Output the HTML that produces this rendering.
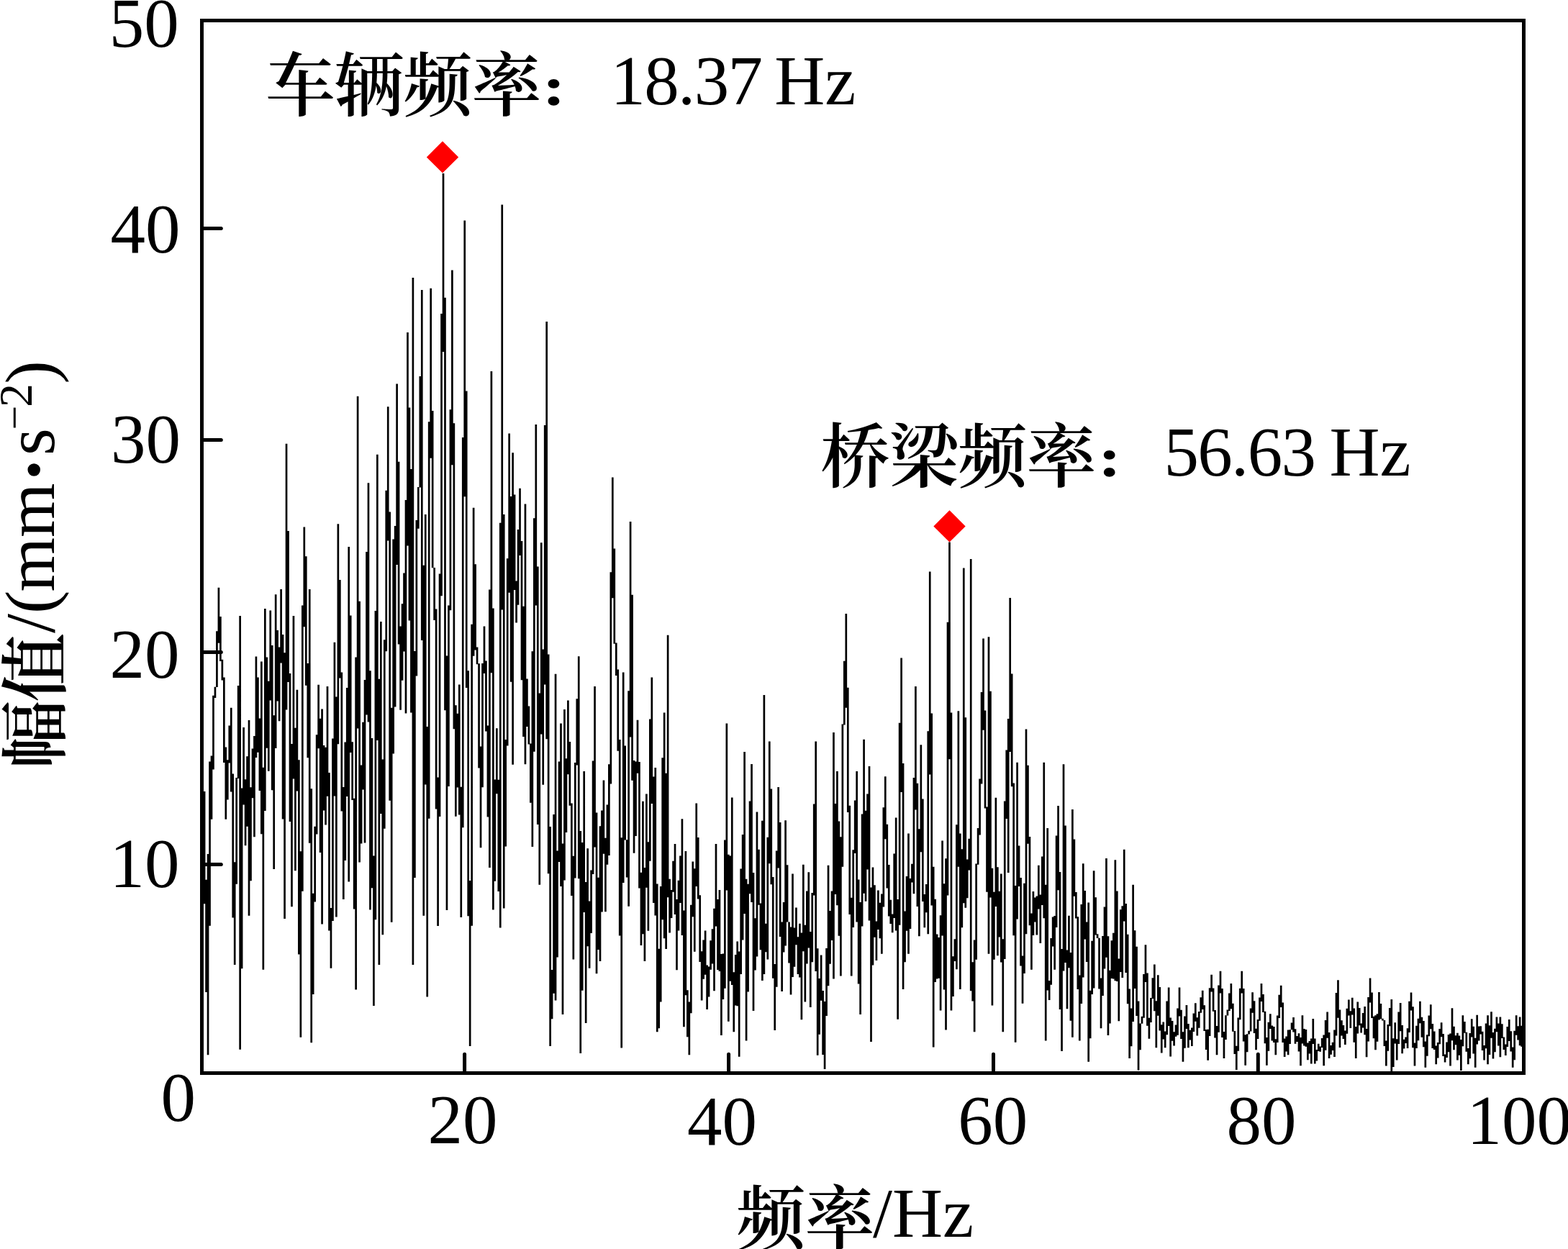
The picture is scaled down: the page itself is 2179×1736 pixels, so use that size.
<!DOCTYPE html>
<html lang="zh-CN"><head><meta charset="utf-8"><title>频谱图</title>
<style>
html,body{margin:0;padding:0;background:#fff;}
body{width:2179px;height:1736px;overflow:hidden;}
svg{display:block;}
text{font-family:"Liberation Serif","Noto Serif CJK SC",serif;font-size:97px;fill:#000;}
.c{font-family:"Noto Serif CJK SC","Liberation Serif",serif;font-weight:600;font-size:97px;letter-spacing:-1.5px;}
.k{font-family:"Noto Serif CJK SC","Liberation Serif",serif;font-weight:900;font-size:100px;}
.n{letter-spacing:-1.7px;}
.d{font-weight:700;font-size:108px;}
.s{font-size:66px;}
.m{font-size:60px;}
.tr{fill:none;stroke:#000;stroke-width:2.8;stroke-linejoin:miter;stroke-miterlimit:3;stroke-linecap:butt;}
.ax{fill:none;stroke:#000;stroke-width:5;}
.tk{stroke:#000;stroke-width:5;stroke-linecap:round;}
</style></head><body>
<svg width="2179" height="1736" viewBox="0 0 2179 1736">
<rect x="0" y="0" width="2179" height="1736" fill="#fff"/>
<path fill="#000" d="M282.75,1100.0h2.68V1256.2h-2.68zM285.23,1222.8h2.68V1379.0h-2.68zM287.70,1187.0h2.68V1466.2h-2.68zM290.18,1058.5h2.68V1286.8h-2.68zM292.66,1050.6h2.68V1138.7h-2.68zM295.13,966.8h2.68V1069.5h-2.68zM297.61,954.7h2.68V969.9h-2.68zM300.09,877.2h2.68V954.9h-2.68zM302.57,816.7h2.68V893.7h-2.68zM305.04,857.1h2.68V918.9h-2.68zM307.52,916.7h2.68V945.5h-2.68zM310.00,941.6h2.68V1060.1h-2.68zM312.47,1038.6h2.68V1138.7h-2.68zM314.95,1056.2h2.68V1111.4h-2.68zM317.43,1008.5h2.68V1060.6h-2.68zM319.90,983.8h2.68V1100.6h-2.68zM322.38,1075.5h2.68V1275.6h-2.68zM324.86,1198.2h2.68V1341.0h-2.68zM327.34,1080.9h2.68V1228.8h-2.68zM329.81,953.1h2.68V1082.0h-2.68zM332.29,855.9h2.68V1458.8h-2.68zM334.77,1095.6h2.68V1346.3h-2.68zM337.24,1011.0h2.68V1118.6h-2.68zM339.72,1083.3h2.68V1175.2h-2.68zM342.20,1051.3h2.68V1148.8h-2.68zM344.68,1001.0h2.68V1272.7h-2.68zM347.15,1094.3h2.68V1224.3h-2.68zM349.63,1040.5h2.68V1109.3h-2.68zM352.11,1022.9h2.68V1163.3h-2.68zM354.58,912.6h2.68V1053.0h-2.68zM357.06,941.4h2.68V1045.8h-2.68zM359.54,998.5h2.68V1099.1h-2.68zM362.01,919.4h2.68V1159.3h-2.68zM364.49,1066.8h2.68V1347.8h-2.68zM366.97,845.9h2.68V1127.0h-2.68zM369.44,913.4h2.68V1039.8h-2.68zM371.92,946.7h2.68V1071.7h-2.68zM374.40,848.5h2.68V973.5h-2.68zM376.88,896.9h2.68V1098.3h-2.68zM379.35,994.3h2.68V1208.1h-2.68zM381.83,826.3h2.68V1040.1h-2.68zM384.31,875.9h2.68V974.4h-2.68zM386.78,899.6h2.68V1002.3h-2.68zM389.26,818.9h2.68V921.6h-2.68zM391.74,881.9h2.68V1138.5h-2.68zM394.21,907.3h2.68V1277.0h-2.68zM396.69,616.8h2.68V986.5h-2.68zM399.17,738.1h2.68V947.9h-2.68zM401.65,936.0h2.68V1142.1h-2.68zM404.12,1033.9h2.68V1260.3h-2.68zM406.60,855.9h2.68V1082.4h-2.68zM409.08,1011.8h2.68V1210.2h-2.68zM411.55,958.8h2.68V1099.6h-2.68zM414.03,1056.2h2.68V1326.6h-2.68zM416.51,1183.3h2.68V1441.7h-2.68zM418.99,841.5h2.68V1238.7h-2.68zM421.46,732.5h2.68V871.2h-2.68zM423.94,773.2h2.68V952.8h-2.68zM426.42,922.0h2.68V1053.3h-2.68zM428.89,818.9h2.68V1171.8h-2.68zM431.37,1096.2h2.68V1449.2h-2.68zM433.85,1241.7h2.68V1382.0h-2.68zM436.32,1148.8h2.68V1253.5h-2.68zM438.80,1021.3h2.68V1159.4h-2.68zM441.28,951.8h2.68V1040.2h-2.68zM443.75,998.7h2.68V1184.9h-2.68zM446.23,985.5h2.68V1284.5h-2.68zM448.71,1036.1h2.68V1126.4h-2.68zM451.19,1038.7h2.68V1146.6h-2.68zM453.66,953.9h2.68V1106.8h-2.68zM456.14,1074.0h2.68V1293.4h-2.68zM458.62,1262.1h2.68V1345.7h-2.68zM461.09,1026.4h2.68V1280.0h-2.68zM463.57,892.8h2.68V1106.6h-2.68zM466.05,968.6h2.68V1274.6h-2.68zM468.52,728.2h2.68V1034.2h-2.68zM471.00,806.1h2.68V942.4h-2.68zM473.48,934.5h2.68V1127.5h-2.68zM475.96,1094.1h2.68V1250.1h-2.68zM478.43,1031.4h2.68V1196.1h-2.68zM480.91,956.0h2.68V1107.0h-2.68zM483.39,760.1h2.68V1225.6h-2.68zM485.86,855.4h2.68V1046.1h-2.68zM488.34,1031.3h2.68V1112.1h-2.68zM490.82,1109.7h2.68V1263.6h-2.68zM493.29,913.6h2.68V1375.6h-2.68zM495.77,550.7h2.68V1012.6h-2.68zM498.25,835.7h2.68V1198.5h-2.68zM500.73,1063.5h2.68V1172.5h-2.68zM503.20,1003.8h2.68V1097.6h-2.68zM505.68,945.0h2.68V1171.4h-2.68zM508.16,767.1h2.68V993.5h-2.68zM510.63,671.2h2.68V1003.5h-2.68zM513.11,932.3h2.68V1264.6h-2.68zM515.59,1025.9h2.68V1234.3h-2.68zM518.06,1189.6h2.68V1398.0h-2.68zM520.54,849.1h2.68V1278.2h-2.68zM523.02,631.8h2.68V1028.9h-2.68zM525.50,943.8h2.68V1341.0h-2.68zM527.97,864.0h2.68V1131.1h-2.68zM530.45,1055.5h2.68V1299.2h-2.68zM532.93,889.2h2.68V1151.8h-2.68zM535.40,681.8h2.68V905.3h-2.68zM537.88,565.2h2.68V751.5h-2.68zM540.36,711.6h2.68V1112.8h-2.68zM542.83,983.7h2.68V1281.7h-2.68zM545.31,749.6h2.68V1047.6h-2.68zM547.79,731.1h2.68V982.4h-2.68zM550.27,533.6h2.68V784.9h-2.68zM552.74,641.7h2.68V895.4h-2.68zM555.22,870.5h2.68V986.7h-2.68zM557.70,839.2h2.68V945.7h-2.68zM560.17,796.5h2.68V905.6h-2.68zM562.65,695.0h2.68V991.4h-2.68zM565.13,462.1h2.68V758.5h-2.68zM567.60,566.6h2.68V862.4h-2.68zM570.08,652.0h2.68V990.5h-2.68zM572.56,386.0h2.68V1341.0h-2.68zM575.04,905.0h2.68V1219.9h-2.68zM577.51,722.9h2.68V939.4h-2.68zM579.99,677.1h2.68V734.8h-2.68zM582.47,522.9h2.68V677.5h-2.68zM584.94,403.0h2.68V890.1h-2.68zM587.42,785.7h2.68V1272.7h-2.68zM589.90,715.1h2.68V1090.6h-2.68zM592.38,1010.1h2.68V1385.6h-2.68zM594.85,586.2h2.68V1137.7h-2.68zM597.33,400.7h2.68V636.8h-2.68zM599.81,571.0h2.68V789.3h-2.68zM602.28,789.0h2.68V861.9h-2.68zM604.76,846.6h2.68V1124.6h-2.68zM607.24,1080.4h2.68V1287.0h-2.68zM609.71,797.4h2.68V1135.1h-2.68zM612.19,435.9h2.68V828.3h-2.68zM614.67,241.0h2.68V489.1h-2.68zM617.14,413.7h2.68V987.2h-2.68zM619.62,911.4h2.68V1265.0h-2.68zM622.10,841.4h2.68V1092.9h-2.68zM624.58,569.3h2.68V848.3h-2.68zM627.05,375.6h2.68V646.2h-2.68zM629.53,588.2h2.68V1013.3h-2.68zM632.01,980.2h2.68V1134.7h-2.68zM634.48,991.8h2.68V1094.4h-2.68zM636.96,951.5h2.68V1132.6h-2.68zM639.44,1093.8h2.68V1274.9h-2.68zM641.91,608.1h2.68V1150.3h-2.68zM644.39,306.6h2.68V690.3h-2.68zM646.87,543.5h2.68V956.0h-2.68zM649.35,932.2h2.68V1273.3h-2.68zM651.82,1224.0h2.68V1454.1h-2.68zM654.30,867.7h2.68V1286.7h-2.68zM656.78,705.8h2.68V911.8h-2.68zM659.25,784.3h2.68V903.6h-2.68zM661.73,899.4h2.68V923.3h-2.68zM664.21,922.3h2.68V1067.6h-2.68zM666.69,1037.5h2.68V1178.2h-2.68zM669.16,921.9h2.68V1094.3h-2.68zM671.64,870.4h2.68V936.0h-2.68zM674.12,918.4h2.68V1016.5h-2.68zM676.59,1008.6h2.68V1135.4h-2.68zM679.07,819.6h2.68V1205.9h-2.68zM681.55,516.1h2.68V935.3h-2.68zM684.02,845.5h2.68V1264.6h-2.68zM686.50,1083.5h2.68V1224.8h-2.68zM688.98,1012.2h2.68V1103.3h-2.68zM691.46,1083.7h2.68V1239.1h-2.68zM693.93,726.8h2.68V1289.6h-2.68zM696.41,284.6h2.68V847.4h-2.68zM698.89,714.9h2.68V1262.5h-2.68zM701.36,1028.0h2.68V1176.5h-2.68zM703.84,776.3h2.68V1036.4h-2.68zM706.32,602.5h2.68V823.7h-2.68zM708.79,689.9h2.68V947.7h-2.68zM711.27,629.2h2.68V1062.8h-2.68zM713.75,687.5h2.68V819.9h-2.68zM716.23,807.4h2.68V865.6h-2.68zM718.70,736.0h2.68V840.7h-2.68zM721.18,678.7h2.68V771.9h-2.68zM723.66,751.9h2.68V945.3h-2.68zM726.13,842.8h2.68V1024.0h-2.68zM728.61,700.5h2.68V1062.2h-2.68zM731.09,943.4h2.68V1009.9h-2.68zM733.56,981.6h2.68V1034.5h-2.68zM736.04,1033.6h2.68V1115.8h-2.68zM738.52,905.2h2.68V1177.1h-2.68zM741.00,720.2h2.68V1044.8h-2.68zM743.47,590.0h2.68V841.5h-2.68zM745.95,787.6h2.68V1145.9h-2.68zM748.43,963.5h2.68V1229.8h-2.68zM750.90,754.3h2.68V1020.6h-2.68zM753.38,902.4h2.68V1090.8h-2.68zM755.86,591.1h2.68V951.6h-2.68zM758.33,447.1h2.68V1027.3h-2.68zM760.81,909.5h2.68V1214.3h-2.68zM763.29,1149.0h2.68V1453.9h-2.68zM765.76,1347.9h2.68V1416.2h-2.68zM768.24,1132.1h2.68V1380.7h-2.68zM770.72,936.8h2.68V1390.5h-2.68zM773.20,1182.5h2.68V1330.6h-2.68zM775.67,1058.6h2.68V1197.9h-2.68zM778.15,1005.5h2.68V1232.1h-2.68zM780.63,1172.5h2.68V1410.1h-2.68zM783.10,985.9h2.68V1223.4h-2.68zM785.58,1054.2h2.68V1156.9h-2.68zM788.06,973.5h2.68V1076.2h-2.68zM790.53,1031.0h2.68V1119.8h-2.68zM793.01,1116.5h2.68V1244.9h-2.68zM795.49,1189.8h2.68V1333.5h-2.68zM797.97,1059.9h2.68V1220.6h-2.68zM800.44,971.3h2.68V1063.5h-2.68zM802.92,912.3h2.68V1221.3h-2.68zM805.40,1155.1h2.68V1464.1h-2.68zM807.87,1171.1h2.68V1376.8h-2.68zM810.35,1072.1h2.68V1268.1h-2.68zM812.83,1226.1h2.68V1422.1h-2.68zM815.30,1179.3h2.68V1315.2h-2.68zM817.78,1252.5h2.68V1345.7h-2.68zM820.26,1209.6h2.68V1296.9h-2.68zM822.74,1057.6h2.68V1215.0h-2.68zM825.21,953.9h2.68V1177.5h-2.68zM827.69,1129.5h2.68V1353.2h-2.68zM830.17,1219.8h2.68V1320.1h-2.68zM832.64,1148.3h2.68V1336.1h-2.68zM835.12,1126.6h2.68V1267.5h-2.68zM837.60,1084.4h2.68V1186.8h-2.68zM840.07,1164.8h2.68V1267.2h-2.68zM842.55,1118.5h2.68V1201.7h-2.68zM845.03,1062.3h2.68V1188.9h-2.68zM847.51,795.3h2.68V1089.4h-2.68zM849.98,663.6h2.68V831.2h-2.68zM852.46,762.6h2.68V894.8h-2.68zM854.94,893.5h2.68V939.0h-2.68zM857.41,930.6h2.68V1043.7h-2.68zM859.89,1027.9h2.68V1300.5h-2.68zM862.37,1164.2h2.68V1456.6h-2.68zM864.84,934.4h2.68V1226.9h-2.68zM867.32,1036.5h2.68V1167.5h-2.68zM869.80,1167.2h2.68V1219.5h-2.68zM872.28,960.3h2.68V1259.7h-2.68zM874.75,725.1h2.68V1024.5h-2.68zM877.23,826.7h2.68V1084.7h-2.68zM879.71,1057.1h2.68V1185.7h-2.68zM882.18,1058.5h2.68V1162.0h-2.68zM884.66,1000.8h2.68V1074.8h-2.68zM887.14,1059.0h2.68V1234.4h-2.68zM889.62,1212.7h2.68V1314.1h-2.68zM892.09,1113.7h2.68V1298.2h-2.68zM894.57,1205.9h2.68V1336.1h-2.68zM897.05,1103.6h2.68V1233.8h-2.68zM899.52,1170.2h2.68V1293.8h-2.68zM902.00,999.4h2.68V1196.7h-2.68zM904.48,941.5h2.68V1117.1h-2.68zM906.95,1079.4h2.68V1255.0h-2.68zM909.43,1066.9h2.68V1272.6h-2.68zM911.91,1228.5h2.68V1434.2h-2.68zM914.38,1318.7h2.68V1429.2h-2.68zM916.86,1232.0h2.68V1392.6h-2.68zM919.34,1053.2h2.68V1278.3h-2.68zM921.82,990.6h2.68V1304.3h-2.68zM924.29,1074.7h2.68V1319.0h-2.68zM926.77,882.8h2.68V1247.2h-2.68zM929.25,1221.7h2.68V1296.6h-2.68zM931.72,1237.0h2.68V1275.9h-2.68zM934.20,1196.8h2.68V1239.7h-2.68zM936.68,1172.9h2.68V1271.1h-2.68zM939.15,1250.0h2.68V1348.3h-2.68zM941.63,1223.8h2.68V1293.5h-2.68zM944.11,1189.6h2.68V1255.0h-2.68zM946.59,1138.2h2.68V1300.0h-2.68zM949.06,1265.4h2.68V1427.2h-2.68zM951.54,1182.9h2.68V1383.3h-2.68zM954.02,1376.2h2.68V1441.3h-2.68zM956.49,1392.5h2.68V1466.2h-2.68zM958.97,1257.7h2.68V1408.3h-2.68zM961.45,1197.4h2.68V1274.2h-2.68zM963.92,1207.2h2.68V1322.7h-2.68zM966.40,1116.4h2.68V1231.9h-2.68zM968.88,1164.1h2.68V1249.4h-2.68zM971.36,1244.2h2.68V1336.9h-2.68zM973.83,1322.3h2.68V1390.5h-2.68zM976.31,1306.4h2.68V1360.7h-2.68zM978.79,1293.4h2.68V1354.7h-2.68zM981.26,1341.6h2.68V1402.9h-2.68zM983.74,1343.5h2.68V1385.6h-2.68zM986.22,1307.3h2.68V1347.8h-2.68zM988.69,1291.3h2.68V1339.5h-2.68zM991.17,1262.8h2.68V1377.3h-2.68zM993.65,1172.9h2.68V1287.4h-2.68zM996.13,1249.9h2.68V1347.9h-2.68zM998.60,1236.9h2.68V1350.1h-2.68zM1001.08,1325.9h2.68V1439.1h-2.68zM1003.56,1325.4h2.68V1389.1h-2.68zM1006.03,1167.5h2.68V1373.8h-2.68zM1008.51,1005.5h2.68V1237.5h-2.68zM1010.99,1187.8h2.68V1419.7h-2.68zM1013.46,1189.6h2.68V1363.8h-2.68zM1015.94,1108.5h2.68V1369.0h-2.68zM1018.42,1351.2h2.68V1434.2h-2.68zM1020.90,1327.0h2.68V1397.4h-2.68zM1023.37,1308.4h2.68V1398.2h-2.68zM1025.85,1322.6h2.68V1468.8h-2.68zM1028.33,1207.6h2.68V1353.9h-2.68zM1030.80,1160.1h2.68V1306.6h-2.68zM1033.28,1045.0h2.68V1269.9h-2.68zM1035.76,1221.7h2.68V1446.6h-2.68zM1038.24,1228.8h2.68V1378.5h-2.68zM1040.71,1113.6h2.68V1242.3h-2.68zM1043.19,1062.0h2.68V1254.1h-2.68zM1045.67,1212.9h2.68V1405.0h-2.68zM1048.14,1276.3h2.68V1348.4h-2.68zM1050.62,1128.6h2.68V1329.6h-2.68zM1053.10,1180.8h2.68V1257.8h-2.68zM1055.57,1255.6h2.68V1320.3h-2.68zM1058.05,1140.7h2.68V1363.0h-2.68zM1060.53,966.0h2.68V1354.1h-2.68zM1063.01,1283.8h2.68V1323.2h-2.68zM1065.48,1163.8h2.68V1333.5h-2.68zM1067.96,1030.5h2.68V1200.2h-2.68zM1070.44,1096.6h2.68V1229.3h-2.68zM1072.91,1218.9h2.68V1359.7h-2.68zM1075.39,1339.9h2.68V1432.1h-2.68zM1077.87,1182.5h2.68V1371.8h-2.68zM1080.34,1094.0h2.68V1206.6h-2.68zM1082.82,1143.1h2.68V1302.1h-2.68zM1085.30,1281.4h2.68V1378.1h-2.68zM1087.78,1253.9h2.68V1323.5h-2.68zM1090.25,1140.3h2.68V1314.4h-2.68zM1092.73,1202.2h2.68V1281.6h-2.68zM1095.21,1281.5h2.68V1338.4h-2.68zM1097.68,1288.5h2.68V1382.6h-2.68zM1100.16,1214.5h2.68V1358.1h-2.68zM1102.64,1289.6h2.68V1343.7h-2.68zM1105.11,1261.4h2.68V1313.3h-2.68zM1107.59,1302.2h2.68V1354.0h-2.68zM1110.07,1283.8h2.68V1358.5h-2.68zM1112.55,1296.5h2.68V1417.2h-2.68zM1115.02,1201.7h2.68V1322.3h-2.68zM1117.50,1285.7h2.68V1392.6h-2.68zM1119.98,1238.5h2.68V1339.5h-2.68zM1122.45,1212.3h2.68V1317.5h-2.68zM1124.93,1295.0h2.68V1400.1h-2.68zM1127.41,1241.0h2.68V1337.3h-2.68zM1129.88,1117.5h2.68V1244.5h-2.68zM1132.36,1030.5h2.68V1350.1h-2.68zM1134.84,1318.3h2.68V1466.7h-2.68zM1137.32,1359.9h2.68V1437.8h-2.68zM1139.79,1327.6h2.68V1390.7h-2.68zM1142.27,1377.1h2.68V1465.9h-2.68zM1144.75,1391.9h2.68V1486.1h-2.68zM1147.22,1318.0h2.68V1412.1h-2.68zM1149.70,1202.7h2.68V1370.2h-2.68zM1152.18,1266.0h2.68V1339.7h-2.68zM1154.65,1238.5h2.68V1306.9h-2.68zM1157.13,1017.9h2.68V1360.6h-2.68zM1159.61,1117.0h2.68V1243.1h-2.68zM1162.09,1072.1h2.68V1258.3h-2.68zM1164.56,1141.5h2.68V1300.7h-2.68zM1167.04,1163.3h2.68V1356.4h-2.68zM1169.52,1006.4h2.68V1204.7h-2.68zM1171.99,918.7h2.68V1007.5h-2.68zM1174.47,852.9h2.68V983.7h-2.68zM1176.95,955.7h2.68V1128.9h-2.68zM1179.42,1119.8h2.68V1271.0h-2.68zM1181.90,1247.7h2.68V1356.4h-2.68zM1184.38,1181.3h2.68V1288.9h-2.68zM1186.86,1112.5h2.68V1185.9h-2.68zM1189.33,1072.1h2.68V1281.6h-2.68zM1191.81,1222.4h2.68V1367.6h-2.68zM1194.29,1254.0h2.68V1410.1h-2.68zM1196.76,1131.4h2.68V1287.5h-2.68zM1199.24,1027.7h2.68V1241.8h-2.68zM1201.72,1126.7h2.68V1252.7h-2.68zM1204.19,1103.4h2.68V1208.5h-2.68zM1206.67,1065.0h2.68V1279.6h-2.68zM1209.15,1233.6h2.68V1448.1h-2.68zM1211.62,1205.5h2.68V1341.4h-2.68zM1214.10,1230.2h2.68V1302.7h-2.68zM1216.58,1280.4h2.68V1335.0h-2.68zM1219.06,1237.5h2.68V1292.1h-2.68zM1221.53,1254.7h2.68V1304.2h-2.68zM1224.01,1242.5h2.68V1325.8h-2.68zM1226.49,1122.3h2.68V1260.4h-2.68zM1228.96,1079.3h2.68V1166.3h-2.68zM1231.44,1145.8h2.68V1234.6h-2.68zM1233.92,1201.9h2.68V1273.4h-2.68zM1236.39,1250.7h2.68V1283.9h-2.68zM1238.87,1270.5h2.68V1296.2h-2.68zM1241.35,1186.6h2.68V1276.0h-2.68zM1243.83,1136.6h2.68V1293.5h-2.68zM1246.30,1250.1h2.68V1416.7h-2.68zM1248.78,1004.7h2.68V1285.8h-2.68zM1251.26,914.6h2.68V1101.0h-2.68zM1253.73,1061.1h2.68V1374.9h-2.68zM1256.21,1266.5h2.68V1337.3h-2.68zM1258.69,1218.0h2.68V1293.7h-2.68zM1261.16,1158.6h2.68V1325.8h-2.68zM1263.64,1221.0h2.68V1291.1h-2.68zM1266.12,1200.7h2.68V1226.5h-2.68zM1268.60,1080.9h2.68V1242.2h-2.68zM1271.07,954.1h2.68V1125.5h-2.68zM1273.55,1088.7h2.68V1260.1h-2.68zM1276.03,1152.3h2.68V1301.3h-2.68zM1278.50,1035.2h2.68V1184.2h-2.68zM1280.98,1110.6h2.68V1252.9h-2.68zM1283.46,1243.0h2.68V1289.2h-2.68zM1285.93,1229.0h2.68V1268.2h-2.68zM1288.41,1016.2h2.68V1298.3h-2.68zM1290.89,794.5h2.68V1076.6h-2.68zM1293.37,991.6h2.68V1258.6h-2.68zM1295.84,1204.8h2.68V1455.6h-2.68zM1298.32,1249.7h2.68V1365.0h-2.68zM1300.80,1298.5h2.68V1360.6h-2.68zM1303.27,1303.0h2.68V1359.8h-2.68zM1305.75,1272.3h2.68V1404.4h-2.68zM1308.23,1168.6h2.68V1300.6h-2.68zM1310.70,1228.2h2.68V1375.4h-2.68zM1313.18,1193.3h2.68V1431.5h-2.68zM1315.66,864.7h2.68V1244.4h-2.68zM1318.14,753.5h2.68V1055.2h-2.68zM1320.61,990.5h2.68V1404.4h-2.68zM1323.09,1329.3h2.68V1384.9h-2.68zM1325.57,1305.2h2.68V1335.9h-2.68zM1328.04,1146.2h2.68V1347.2h-2.68zM1330.52,988.2h2.68V1204.8h-2.68zM1333.00,1158.4h2.68V1374.9h-2.68zM1335.47,1180.3h2.68V1289.3h-2.68zM1337.95,789.4h2.68V1255.2h-2.68zM1340.43,997.3h2.68V1261.8h-2.68zM1342.91,1194.4h2.68V1248.2h-2.68zM1345.38,1165.8h2.68V1209.4h-2.68zM1347.86,777.0h2.68V1377.3h-2.68zM1350.34,1337.2h2.68V1391.5h-2.68zM1352.81,1306.5h2.68V1434.2h-2.68zM1355.29,1200.5h2.68V1333.8h-2.68zM1357.77,1150.9h2.68V1201.7h-2.68zM1360.24,1082.4h2.68V1160.6h-2.68zM1362.72,961.9h2.68V1089.5h-2.68zM1365.20,887.5h2.68V1014.7h-2.68zM1367.68,987.5h2.68V1123.4h-2.68zM1370.15,1121.5h2.68V1239.8h-2.68zM1372.63,885.2h2.68V1325.8h-2.68zM1375.11,960.7h2.68V1247.6h-2.68zM1377.58,1206.7h2.68V1397.5h-2.68zM1380.06,1239.8h2.68V1333.8h-2.68zM1382.54,1108.8h2.68V1259.9h-2.68zM1385.01,1205.3h2.68V1328.2h-2.68zM1387.49,1238.8h2.68V1302.4h-2.68zM1389.97,1214.6h2.68V1337.6h-2.68zM1392.45,1305.2h2.68V1434.2h-2.68zM1394.92,1113.6h2.68V1332.9h-2.68zM1397.40,1042.6h2.68V1138.1h-2.68zM1399.88,999.1h2.68V1213.1h-2.68zM1402.35,831.0h2.68V1045.0h-2.68zM1404.83,936.5h2.68V1093.3h-2.68zM1407.31,1088.5h2.68V1300.2h-2.68zM1409.78,1230.9h2.68V1448.7h-2.68zM1412.26,1059.7h2.68V1277.6h-2.68zM1414.74,1175.6h2.68V1232.0h-2.68zM1417.22,1219.9h2.68V1342.6h-2.68zM1419.69,1328.4h2.68V1394.8h-2.68zM1422.17,1227.7h2.68V1353.1h-2.68zM1424.65,1013.4h2.68V1298.3h-2.68zM1427.12,1063.8h2.68V1172.7h-2.68zM1429.60,1163.1h2.68V1286.2h-2.68zM1432.08,1269.5h2.68V1347.8h-2.68zM1434.55,1239.0h2.68V1299.9h-2.68zM1437.03,1247.5h2.68V1281.5h-2.68zM1439.51,1245.4h2.68V1299.6h-2.68zM1441.99,1202.7h2.68V1263.4h-2.68zM1444.46,1243.5h2.68V1311.1h-2.68zM1446.94,1190.4h2.68V1258.0h-2.68zM1449.42,1059.7h2.68V1276.2h-2.68zM1451.89,1229.8h2.68V1446.4h-2.68zM1454.37,1151.1h2.68V1376.5h-2.68zM1456.85,1362.9h2.68V1389.9h-2.68zM1459.33,1304.1h2.68V1368.7h-2.68zM1461.80,1274.5h2.68V1315.6h-2.68zM1464.28,1273.0h2.68V1347.8h-2.68zM1466.76,1161.5h2.68V1289.1h-2.68zM1469.23,1120.0h2.68V1237.3h-2.68zM1471.71,1212.1h2.68V1403.0h-2.68zM1474.19,1319.1h2.68V1460.9h-2.68zM1476.66,1062.3h2.68V1349.5h-2.68zM1479.14,1147.5h2.68V1337.9h-2.68zM1481.62,1320.4h2.68V1402.2h-2.68zM1484.10,1272.7h2.68V1345.2h-2.68zM1486.57,1324.1h2.68V1418.7h-2.68zM1489.05,1125.0h2.68V1441.7h-2.68zM1491.53,1166.4h2.68V1245.8h-2.68zM1494.00,1240.1h2.68V1276.4h-2.68zM1496.48,1274.3h2.68V1374.9h-2.68zM1498.96,1355.4h2.68V1446.4h-2.68zM1501.43,1257.0h2.68V1394.9h-2.68zM1503.91,1200.2h2.68V1358.4h-2.68zM1506.39,1237.9h2.68V1305.4h-2.68zM1508.87,1281.6h2.68V1337.1h-2.68zM1511.34,1254.6h2.68V1475.8h-2.68zM1513.82,1376.7h2.68V1443.2h-2.68zM1516.30,1307.7h2.68V1382.0h-2.68zM1518.77,1210.2h2.68V1373.5h-2.68zM1521.25,1247.3h2.68V1299.4h-2.68zM1523.73,1298.3h2.68V1303.9h-2.68zM1526.20,1303.7h2.68V1374.4h-2.68zM1528.68,1359.4h2.68V1429.3h-2.68zM1531.16,1301.1h2.68V1384.0h-2.68zM1533.64,1260.6h2.68V1346.4h-2.68zM1536.11,1193.1h2.68V1330.8h-2.68zM1538.59,1301.3h2.68V1438.9h-2.68zM1541.07,1348.7h2.68V1422.5h-2.68zM1543.54,1307.2h2.68V1360.0h-2.68zM1546.02,1296.7h2.68V1360.6h-2.68zM1548.50,1195.3h2.68V1363.2h-2.68zM1550.97,1238.5h2.68V1364.0h-2.68zM1553.45,1332.4h2.68V1419.3h-2.68zM1555.93,1264.2h2.68V1351.0h-2.68zM1558.41,1259.2h2.68V1359.0h-2.68zM1560.88,1180.8h2.68V1280.6h-2.68zM1563.36,1256.1h2.68V1352.0h-2.68zM1565.84,1298.8h2.68V1395.2h-2.68zM1568.31,1374.5h2.68V1470.9h-2.68zM1570.79,1401.4h2.68V1454.2h-2.68zM1573.27,1229.8h2.68V1420.1h-2.68zM1575.74,1293.2h2.68V1373.9h-2.68zM1578.22,1315.8h2.68V1412.0h-2.68zM1580.70,1391.4h2.68V1487.6h-2.68zM1583.18,1422.5h2.68V1459.3h-2.68zM1585.65,1412.8h2.68V1422.7h-2.68zM1588.13,1353.9h2.68V1414.7h-2.68zM1590.61,1313.3h2.68V1365.0h-2.68zM1593.08,1352.6h2.68V1425.7h-2.68zM1595.56,1414.8h2.68V1443.8h-2.68zM1598.04,1387.0h2.68V1421.0h-2.68zM1600.51,1359.2h2.68V1388.1h-2.68zM1602.99,1340.4h2.68V1405.2h-2.68zM1605.47,1391.3h2.68V1456.2h-2.68zM1607.95,1355.3h2.68V1411.8h-2.68zM1610.42,1372.0h2.68V1432.6h-2.68zM1612.90,1424.2h2.68V1463.5h-2.68zM1615.38,1420.4h2.68V1444.5h-2.68zM1617.85,1433.5h2.68V1456.2h-2.68zM1620.33,1391.4h2.68V1438.3h-2.68zM1622.81,1372.4h2.68V1426.1h-2.68zM1625.28,1414.6h2.68V1468.4h-2.68zM1627.76,1419.0h2.68V1446.7h-2.68zM1630.24,1434.2h2.68V1453.4h-2.68zM1632.72,1424.6h2.68V1440.8h-2.68zM1635.19,1401.6h2.68V1438.8h-2.68zM1637.67,1372.4h2.68V1412.4h-2.68zM1640.15,1403.8h2.68V1443.9h-2.68zM1642.62,1434.2h2.68V1475.8h-2.68zM1645.10,1412.6h2.68V1456.8h-2.68zM1647.58,1396.9h2.68V1430.1h-2.68zM1650.05,1423.0h2.68V1456.2h-2.68zM1652.53,1431.8h2.68V1445.5h-2.68zM1655.01,1428.6h2.68V1454.0h-2.68zM1657.49,1408.6h2.68V1434.0h-2.68zM1659.96,1394.3h2.68V1419.7h-2.68zM1662.44,1414.2h2.68V1439.6h-2.68zM1664.92,1405.9h2.68V1428.8h-2.68zM1667.39,1386.3h2.68V1407.8h-2.68zM1669.87,1376.7h2.68V1402.9h-2.68zM1672.35,1397.3h2.68V1432.9h-2.68zM1674.82,1430.9h2.68V1459.1h-2.68zM1677.30,1430.7h2.68V1473.8h-2.68zM1679.78,1373.3h2.68V1439.9h-2.68zM1682.26,1354.8h2.68V1378.5h-2.68zM1684.73,1373.4h2.68V1405.7h-2.68zM1687.21,1403.9h2.68V1442.6h-2.68zM1689.69,1426.1h2.68V1466.3h-2.68zM1692.16,1369.4h2.68V1434.7h-2.68zM1694.64,1349.7h2.68V1380.5h-2.68zM1697.12,1373.9h2.68V1441.9h-2.68zM1699.59,1434.0h2.68V1471.1h-2.68zM1702.07,1411.3h2.68V1444.9h-2.68zM1704.55,1403.5h2.68V1411.4h-2.68zM1707.03,1380.4h2.68V1405.1h-2.68zM1709.50,1367.1h2.68V1402.3h-2.68zM1711.98,1394.7h2.68V1433.7h-2.68zM1714.46,1432.9h2.68V1464.9h-2.68zM1716.93,1453.7h2.68V1487.1h-2.68zM1719.41,1414.5h2.68V1460.8h-2.68zM1721.89,1373.7h2.68V1417.3h-2.68zM1724.36,1349.7h2.68V1380.6h-2.68zM1726.84,1374.0h2.68V1447.4h-2.68zM1729.32,1438.3h2.68V1480.7h-2.68zM1731.80,1437.3h2.68V1462.2h-2.68zM1734.27,1432.7h2.68V1437.6h-2.68zM1736.75,1401.6h2.68V1433.5h-2.68zM1739.23,1379.3h2.68V1407.7h-2.68zM1741.70,1391.3h2.68V1436.1h-2.68zM1744.18,1429.8h2.68V1459.3h-2.68zM1746.66,1417.1h2.68V1443.9h-2.68zM1749.13,1386.6h2.68V1418.7h-2.68zM1751.61,1367.1h2.68V1391.9h-2.68zM1754.09,1382.1h2.68V1406.9h-2.68zM1756.57,1405.7h2.68V1450.2h-2.68zM1759.04,1441.9h2.68V1480.7h-2.68zM1761.52,1420.7h2.68V1460.8h-2.68zM1764.00,1409.2h2.68V1430.1h-2.68zM1766.47,1425.6h2.68V1446.5h-2.68zM1768.95,1427.0h2.68V1449.0h-2.68zM1771.43,1444.3h2.68V1466.3h-2.68zM1773.90,1411.6h2.68V1449.1h-2.68zM1776.38,1382.8h2.68V1415.0h-2.68zM1778.86,1369.7h2.68V1399.9h-2.68zM1781.34,1393.5h2.68V1449.0h-2.68zM1783.81,1443.6h2.68V1469.0h-2.68zM1786.29,1440.6h2.68V1461.5h-2.68zM1788.77,1431.6h2.68V1466.3h-2.68zM1791.24,1431.3h2.68V1451.0h-2.68zM1793.72,1421.5h2.68V1431.3h-2.68zM1796.20,1414.0h2.68V1434.6h-2.68zM1798.67,1430.2h2.68V1450.8h-2.68zM1801.15,1439.9h2.68V1448.1h-2.68zM1803.63,1436.2h2.68V1461.4h-2.68zM1806.11,1442.1h2.68V1481.2h-2.68zM1808.58,1411.3h2.68V1450.5h-2.68zM1811.06,1429.9h2.68V1453.4h-2.68zM1813.54,1431.1h2.68V1454.7h-2.68zM1816.01,1449.6h2.68V1473.2h-2.68zM1818.49,1446.9h2.68V1464.6h-2.68zM1820.97,1443.6h2.68V1478.6h-2.68zM1823.44,1416.1h2.68V1451.1h-2.68zM1825.92,1443.6h2.68V1478.6h-2.68zM1828.40,1458.9h2.68V1474.5h-2.68zM1830.88,1450.8h2.68V1461.1h-2.68zM1833.35,1454.4h2.68V1461.7h-2.68zM1835.83,1443.0h2.68V1456.0h-2.68zM1838.31,1438.5h2.68V1481.2h-2.68zM1840.78,1418.0h2.68V1459.8h-2.68zM1843.26,1406.5h2.68V1442.7h-2.68zM1845.74,1434.9h2.68V1471.1h-2.68zM1848.21,1453.1h2.68V1465.7h-2.68zM1850.69,1448.7h2.68V1460.0h-2.68zM1853.17,1431.6h2.68V1469.0h-2.68zM1855.64,1379.9h2.68V1439.6h-2.68zM1858.12,1362.3h2.68V1414.8h-2.68zM1860.60,1403.6h2.68V1456.1h-2.68zM1863.08,1418.2h2.68V1439.4h-2.68zM1865.55,1425.0h2.68V1443.9h-2.68zM1868.03,1432.6h2.68V1451.9h-2.68zM1870.51,1401.8h2.68V1436.7h-2.68zM1872.98,1389.5h2.68V1411.6h-2.68zM1875.46,1405.3h2.68V1428.9h-2.68zM1877.94,1386.8h2.68V1410.4h-2.68zM1880.41,1401.5h2.68V1448.7h-2.68zM1882.89,1427.0h2.68V1471.1h-2.68zM1885.37,1392.4h2.68V1436.5h-2.68zM1887.85,1401.1h2.68V1425.3h-2.68zM1890.32,1422.5h2.68V1435.6h-2.68zM1892.80,1407.9h2.68V1428.4h-2.68zM1895.28,1399.1h2.68V1438.3h-2.68zM1897.75,1429.9h2.68V1469.2h-2.68zM1900.23,1386.1h2.68V1447.5h-2.68zM1902.71,1359.5h2.68V1393.4h-2.68zM1905.18,1379.5h2.68V1415.0h-2.68zM1907.66,1412.8h2.68V1443.2h-2.68zM1910.14,1411.3h2.68V1459.2h-2.68zM1912.62,1409.3h2.68V1447.8h-2.68zM1915.09,1379.0h2.68V1417.5h-2.68zM1917.57,1395.0h2.68V1416.2h-2.68zM1920.05,1415.8h2.68V1418.4h-2.68zM1922.52,1417.9h2.68V1454.0h-2.68zM1925.00,1446.6h2.68V1481.4h-2.68zM1927.48,1424.1h2.68V1460.7h-2.68zM1929.95,1400.9h2.68V1426.3h-2.68zM1932.43,1389.0h2.68V1489.5h-2.68zM1934.91,1443.2h2.68V1483.1h-2.68zM1937.39,1421.3h2.68V1450.6h-2.68zM1939.86,1444.3h2.68V1473.6h-2.68zM1942.34,1406.4h2.68V1451.0h-2.68zM1944.82,1394.0h2.68V1433.3h-2.68zM1947.29,1424.9h2.68V1464.2h-2.68zM1949.77,1444.7h2.68V1457.5h-2.68zM1952.25,1441.4h2.68V1450.1h-2.68zM1954.72,1429.2h2.68V1456.9h-2.68zM1957.20,1391.8h2.68V1435.1h-2.68zM1959.68,1379.6h2.68V1404.6h-2.68zM1962.16,1399.2h2.68V1456.2h-2.68zM1964.63,1449.4h2.68V1481.4h-2.68zM1967.11,1425.8h2.68V1456.9h-2.68zM1969.59,1415.8h2.68V1446.3h-2.68zM1972.06,1391.8h2.68V1422.3h-2.68zM1974.54,1413.8h2.68V1441.8h-2.68zM1977.02,1419.1h2.68V1455.3h-2.68zM1979.49,1447.5h2.68V1483.7h-2.68zM1981.97,1438.2h2.68V1467.7h-2.68zM1984.45,1411.5h2.68V1440.2h-2.68zM1986.93,1396.3h2.68V1430.2h-2.68zM1989.40,1423.0h2.68V1456.9h-2.68zM1991.88,1433.4h2.68V1459.0h-2.68zM1994.36,1453.5h2.68V1479.2h-2.68zM1996.83,1449.1h2.68V1470.5h-2.68zM1999.31,1430.0h2.68V1451.3h-2.68zM2001.79,1421.3h2.68V1441.3h-2.68zM2004.26,1437.0h2.68V1467.9h-2.68zM2006.74,1465.5h2.68V1476.4h-2.68zM2009.22,1448.6h2.68V1470.1h-2.68zM2011.70,1438.0h2.68V1462.3h-2.68zM2014.17,1436.6h2.68V1481.4h-2.68zM2016.65,1401.3h2.68V1446.2h-2.68zM2019.13,1426.8h2.68V1459.2h-2.68zM2021.60,1439.2h2.68V1452.3h-2.68zM2024.08,1435.8h2.68V1473.6h-2.68zM2026.56,1439.5h2.68V1466.7h-2.68zM2029.03,1445.1h2.68V1488.1h-2.68zM2031.51,1411.3h2.68V1454.3h-2.68zM2033.99,1420.0h2.68V1435.8h-2.68zM2036.47,1434.8h2.68V1461.8h-2.68zM2038.94,1457.0h2.68V1479.2h-2.68zM2041.42,1436.1h2.68V1471.3h-2.68zM2043.90,1416.3h2.68V1441.5h-2.68zM2046.37,1426.8h2.68V1464.6h-2.68zM2048.85,1442.8h2.68V1483.7h-2.68zM2051.33,1410.7h2.68V1451.6h-2.68zM2053.80,1426.4h2.68V1446.4h-2.68zM2056.28,1426.3h2.68V1437.6h-2.68zM2058.76,1433.7h2.68V1460.1h-2.68zM2061.24,1452.9h2.68V1473.6h-2.68zM2063.71,1422.4h2.68V1457.3h-2.68zM2066.19,1411.3h2.68V1479.2h-2.68zM2068.67,1425.2h2.68V1466.0h-2.68zM2071.14,1406.3h2.68V1442.8h-2.68zM2073.62,1434.9h2.68V1471.4h-2.68zM2076.10,1429.7h2.68V1462.2h-2.68zM2078.57,1413.5h2.68V1434.2h-2.68zM2081.05,1422.4h2.68V1453.5h-2.68zM2083.53,1413.5h2.68V1469.2h-2.68zM2086.01,1423.3h2.68V1443.1h-2.68zM2088.48,1441.5h2.68V1459.0h-2.68zM2090.96,1451.6h2.68V1467.0h-2.68zM2093.44,1426.9h2.68V1454.9h-2.68zM2095.91,1416.9h2.68V1446.9h-2.68zM2098.39,1433.3h2.68V1461.5h-2.68zM2100.87,1455.5h2.68V1483.7h-2.68zM2103.34,1432.8h2.68V1473.3h-2.68zM2105.82,1411.3h2.68V1438.7h-2.68zM2108.30,1426.3h2.68V1445.4h-2.68zM2110.78,1413.5h2.68V1453.2h-2.68zM2113.25,1425.8h2.68V1454.7h-2.68z"/>
<rect class="ax" x="280.5" y="28.5" width="1837" height="1463"/>
<line class="tk" x1="283" y1="317.4" x2="307.3" y2="317.4"/>
<line class="tk" x1="283" y1="611.4" x2="307.3" y2="611.4"/>
<line class="tk" x1="283" y1="906.5" x2="307.3" y2="906.5"/>
<line class="tk" x1="283" y1="1201.6" x2="307.3" y2="1201.6"/>
<line class="tk" x1="645.6" y1="1489" x2="645.6" y2="1465.3"/>
<line class="tk" x1="1012.6" y1="1489" x2="1012.6" y2="1465.3"/>
<line class="tk" x1="1380.5" y1="1489" x2="1380.5" y2="1465.3"/>
<line class="tk" x1="1748.3" y1="1489" x2="1748.3" y2="1465.3"/>
<text x="248.8" y="64.6" text-anchor="end">50</text>
<text x="250.6" y="351.0" text-anchor="end">40</text>
<text x="251" y="643.2" text-anchor="end">30</text>
<text x="249.6" y="941.8" text-anchor="end">20</text>
<text x="249.6" y="1232.6" text-anchor="end">10</text>
<text x="272" y="1558.2" text-anchor="end">0</text>
<text x="642.9" y="1589.2" text-anchor="middle">20</text>
<text x="1003.4" y="1590.9" text-anchor="middle">40</text>
<text x="1379.8" y="1589.8" text-anchor="middle">60</text>
<text x="1753" y="1589.8" text-anchor="middle">80</text>
<text x="2111.3" y="1590.2" text-anchor="middle">100</text>
<text class="c" x="1023" y="1727.8">频率</text>
<text x="1213" y="1719">/Hz</text>
<g transform="translate(75.4,1066) rotate(-90)">
<text class="c" x="-2.6" y="7.6" style="font-size:95px">幅</text>
<text class="c" x="90" y="7.6" style="font-size:96px">值</text>
<text x="186" y="0">/(</text>
<text x="243.5" y="0">mm</text>
<text class="d" x="395" y="7.7">·</text>
<text x="433" y="0">s</text>
<text class="m" x="468.5" y="-35.2">−</text>
<text class="s" x="500" y="-31.8">2</text>
<text x="532.5" y="0">)</text>
</g>
<text class="c" x="369" y="153">车辆频率</text>
<text class="k" transform="translate(747.7,148.3) scale(0.76,0.62)">：</text>
<text class="n" x="848.5" y="145">18.37</text>
<text x="1076.2" y="145">Hz</text>
<text class="c" x="1140" y="668.8">桥梁频率</text>
<text class="k" transform="translate(1520,664.3) scale(0.76,0.62)">：</text>
<text class="n" x="1617.5" y="661">56.63</text>
<text x="1847.5" y="661">Hz</text>
<polygon points="615,196.20000000000002 637.2,218.4 615,240.6 592.8,218.4" fill="#ff0000"/>
<polygon points="1319.5,709.1999999999999 1341.7,731.4 1319.5,753.6 1297.3,731.4" fill="#ff0000"/>
</svg></body></html>
